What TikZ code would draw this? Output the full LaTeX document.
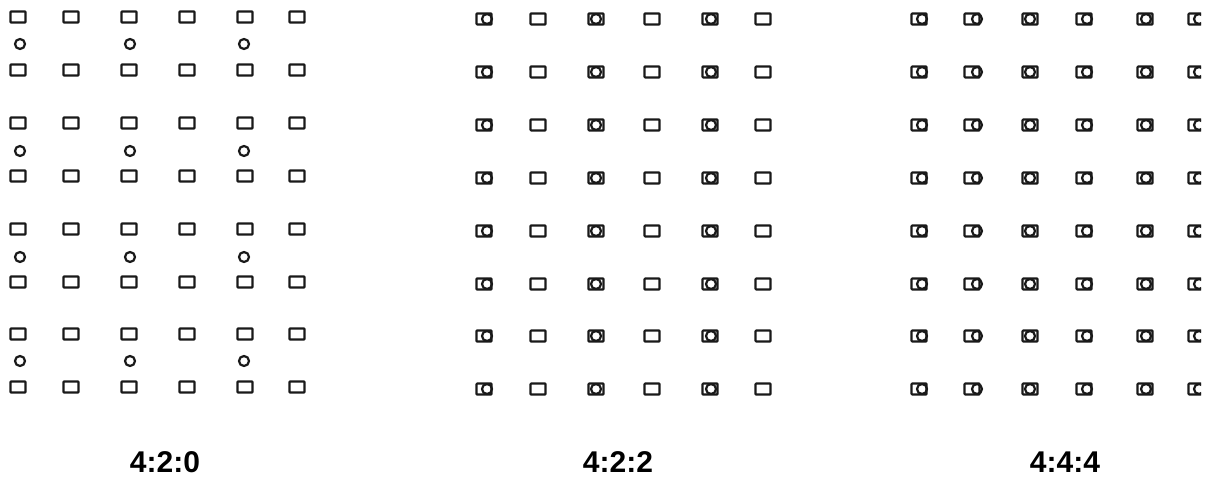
\documentclass[tikz,border=0pt]{standalone}
\usepackage{fontspec}
\setmainfont{Liberation Sans}
\begin{document}
\begin{tikzpicture}[x=1pt,y=-1pt,
  samp/.style={line width=2.2pt, draw=black!90, rounded corners=0.8pt},
  chroma/.style={line width=2.2pt, draw=black!90},
  lbl/.style={font=\fontsize{30}{36}\selectfont\bfseries, anchor=base, inner sep=0pt}]
\useasboundingbox (0,0) rectangle (1211,484);
% ---------- 4:2:0 ----------
\foreach \y in {17,70,123,176,229,282,334,387}
  \foreach \x in {18,71,129,187,245,297}
    \draw[samp] (\x-7.5,\y-5.5) rectangle (\x+7.5,\y+5.5);
\foreach \y in {44,151,257,361}
  \foreach \x in {20,130,244}
    \draw[chroma] (\x,\y) circle[radius=5];
% ---------- 4:2:2 ----------
\foreach \y in {19,72,125,178,231,284,336,389}{
  \foreach \x in {538,652,763}
    \draw[samp] (\x-7.5,\y-5.5) rectangle (\x+7.5,\y+5.5);
  \foreach \x/\d in {484/3,596/0,710/1}{
    \draw[samp] (\x-7.5,\y-5.5) rectangle (\x+7.5,\y+5.5);
    \draw[chroma] (\x+\d,\y) circle[radius=5];
  }
}
% ---------- 4:4:4 ----------
\begin{scope}
\clip (880,0) rectangle (1201,430);
\foreach \y in {19,72,125,178,231,284,336,389}
  \foreach \x/\d in {919/3,972/5,1030/0,1084/3,1145/1,1196/3}{
    \draw[samp] (\x-7.5,\y-5.5) rectangle (\x+7.5,\y+5.5);
    \draw[chroma] (\x+\d,\y) circle[radius=5];
  }
\end{scope}
% ---------- labels ----------
\node[lbl] (l420) at (165,472) {4:2:0};
\node[lbl] (l422) at (618,472) {4:2:2};
\node[lbl] (l444) at (1065,472) {4:4:4};
\end{tikzpicture}
\end{document}
